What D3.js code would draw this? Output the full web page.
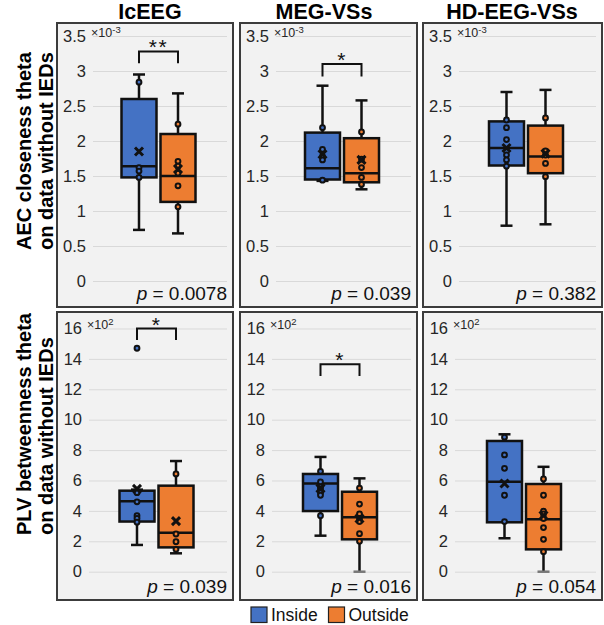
<!DOCTYPE html>
<html>
<head>
<meta charset="utf-8">
<script src="https://cdnjs.cloudflare.com/ajax/libs/d3/7.8.5/d3.min.js"></script>
<style>
  html, body { margin: 0; padding: 0; background: #ffffff; }
  svg { display: block; font-family: "Liberation Sans", Arial, "DejaVu Sans", sans-serif; }
</style>
</head>
<body>
<svg id="chart" width="604" height="625"></svg>
<script>
// ---------------- DATA ----------------
const columns = ["IcEEG", "MEG-VSs", "HD-EEG-VSs"];
const rowLabels = [["AEC closeness theta", "on data without IEDs"],
                   ["PLV betweenness theta", "on data without IEDs"]];
const series = ["Inside", "Outside"];
const seriesColors = ["#4472C4", "#ED7D31"];

const topTicks = [0, 0.5, 1, 1.5, 2, 2.5, 3, 3.5];
const topTickLabels = ["0", "0.5", "1", "1.5", "2", "2.5", "3", "3.5"];
const bottomTicks = [0, 2, 4, 6, 8, 10, 12, 14, 16];
const bottomTickLabels = ["0", "2", "4", "6", "8", "10", "12", "14", "16"];
const rowExponent = ["-3", "2"];

// panel order: top row (IcEEG, MEG, HD-EEG), bottom row (IcEEG, MEG, HD-EEG)
const insideLow    = [0.73, 1.43, 0.79, 1.76, 2.37, 2.20];
const insideQ1     = [1.48, 1.45, 1.65, 3.30, 3.99, 3.25];
const insideMedian = [1.64, 1.61, 1.90, 4.63, 5.81, 5.92];
const insideQ3     = [2.60, 2.12, 2.28, 5.33, 6.43, 8.60];
const insideHigh   = [2.95, 2.79, 2.70, 5.40, 7.55, 9.04];
const insideMean   = [1.85, 1.81, 1.90, 5.45, 5.48, 5.80];
const insidePoints = [
  [2.84, 1.62, 1.57, 1.48],
  [2.19, 1.88, 1.78, 1.73, 1.44],
  [2.30, 2.19, 2.02, 1.80, 1.73, 1.64],
  [5.20, 4.60, 3.68, 3.50, 3.26],
  [6.60, 5.90, 5.60, 5.45, 5.20, 5.03, 3.68],
  [8.85, 7.68, 6.80, 5.03, 3.30]
];
const insideOutliers = [[], [], [], [14.7], [], []];

const outsideLow    = [0.68, 1.31, 0.81, 1.21, 0.00, 0.00];
const outsideQ1     = [1.13, 1.41, 1.54, 1.60, 2.13, 1.47];
const outsideMedian = [1.50, 1.54, 1.78, 2.57, 3.58, 3.45];
const outsideQ3     = [2.10, 2.04, 2.22, 5.66, 5.26, 5.77];
const outsideHigh   = [2.68, 2.58, 2.73, 7.28, 6.14, 6.90];
const outsideMean   = [1.60, 1.73, 1.82, 3.33, 3.50, 3.70];
const outsidePoints = [
  [2.24, 1.71, 1.64, 1.54, 1.36, 1.06],
  [2.13, 1.74, 1.62, 1.48, 1.38],
  [2.33, 1.86, 1.80, 1.68, 1.49],
  [6.43, 2.48, 1.97, 1.47],
  [5.50, 4.45, 3.80, 3.50, 3.30, 2.50, 2.00],
  [6.10, 5.03, 3.99, 3.80, 3.50, 2.90, 2.13, 1.32]
];
const outsideOutliers = [[], [], [], [], [], []];

const sigLabels   = ["**", "*", "", "*", "*", ""];
const sigBarTop   = [3.28, 3.10, null, 16.0, 13.64, null];
const sigBarLegs  = [3.11, 2.92, null, 15.24, 12.87, null];
const pValues     = ["0.0078", "0.039", "0.382", "0.039", "0.016", "0.054"];

// ---------------- LAYOUT ----------------
const svg = d3.select("#chart");
const colX = [57, 240, 423];
const colW = [176, 177, 179];
const rowY = [23, 312];
const rowH = [284, 288];
const plotTop = [36, 328.5];
const plotBottom = [281, 571.7];
const plotLeftOffset = [36, 32];
const plotRightInset = 6;

// column titles
const titleX = [150, 324, 512];
svg.selectAll("text.coltitle").data(columns).join("text")
  .attr("class", "coltitle")
  .attr("x", (d, i) => titleX[i]).attr("y", 18.5)
  .attr("text-anchor", "middle")
  .attr("font-size", 21.5).attr("font-weight", "bold").attr("fill", "#000")
  .text(d => d);

// row labels
const rowLabelStart = [250, 535];
rowLabels.forEach((lines, r) => {
  lines.forEach((line, k) => {
    svg.append("text")
      .attr("transform", `translate(${k === 0 ? 30.5 : 53} ${rowLabelStart[r]}) rotate(-90)`)
      .attr("text-anchor", "start")
      .attr("font-size", 20).attr("font-weight", "bold").attr("fill", "#000")
      .text(line);
  });
});

const stats = [
  {low: insideLow, q1: insideQ1, med: insideMedian, q3: insideQ3, high: insideHigh, mean: insideMean, pts: insidePoints, out: insideOutliers},
  {low: outsideLow, q1: outsideQ1, med: outsideMedian, q3: outsideQ3, high: outsideHigh, mean: outsideMean, pts: outsidePoints, out: outsideOutliers}
];

for (let r = 0; r < 2; r++) {
  for (let c = 0; c < 3; c++) {
    const p = r * 3 + c;
    const g = svg.append("g");
    // panel background + border
    g.append("rect")
      .attr("x", colX[c]).attr("y", rowY[r])
      .attr("width", colW[c]).attr("height", rowH[r])
      .attr("fill", "#f2f2f2").attr("stroke", "#3c3c3c").attr("stroke-width", 2);

    const x0 = colX[c] + plotLeftOffset[r];
    const x1 = colX[c] + colW[c] - plotRightInset;
    const ticks = r === 0 ? topTicks : bottomTicks;
    const tickLabels = r === 0 ? topTickLabels : bottomTickLabels;
    const y = d3.scaleLinear()
      .domain([ticks[0], ticks[ticks.length - 1]])
      .range([plotBottom[r], plotTop[r]]);

    // gridlines + tick labels through axis
    const axis = d3.axisLeft(y).tickValues(ticks)
      .tickFormat((d, i) => tickLabels[i])
      .tickSize(-(x1 - x0)).tickPadding(7);
    const ag = g.append("g").attr("transform", `translate(${x0},0)`).call(axis);
    ag.select(".domain").remove();
    ag.selectAll(".tick line").attr("stroke", "#d9d9d9").attr("stroke-width", 1);
    ag.selectAll(".tick text").attr("font-size", 16.5).attr("fill", "#262626")
      .attr("font-family", "'Liberation Sans', Arial, sans-serif");

    // exponent label
    const ex = g.append("text")
      .attr("x", x0 - 2).attr("y", plotTop[r] + 0.5)
      .attr("font-size", 12.5).attr("fill", "#262626");
    ex.append("tspan").text("×10");
    ex.append("tspan").attr("dy", -4).attr("font-size", 9.5).text(rowExponent[r]);

    // x positioning
    const center = (x0 + x1) / 2 - 1.5;
    const xs = d3.scaleBand().domain(series)
      .range([center - 37, center + 37]).paddingInner(0.1026).paddingOuter(0);
    const bw = xs.bandwidth();

    series.forEach((s, si) => {
      const st = stats[si];
      const cx = xs(s) + bw / 2;
      const sg = g.append("g");
      // whiskers
      sg.append("line").attr("x1", cx).attr("x2", cx)
        .attr("y1", y(st.high[p])).attr("y2", y(st.q3[p]))
        .attr("stroke", "#111").attr("stroke-width", 2.5);
      sg.append("line").attr("x1", cx).attr("x2", cx)
        .attr("y1", y(st.q1[p])).attr("y2", y(st.low[p]))
        .attr("stroke", "#111").attr("stroke-width", 2.5);
      [st.high[p], st.low[p]].forEach(v => {
        sg.append("line").attr("x1", cx - 6).attr("x2", cx + 6)
          .attr("y1", y(v)).attr("y2", y(v))
          .attr("stroke", v === 0 ? "#777" : "#111").attr("stroke-width", 2.5);
      });
      // box
      sg.append("rect")
        .attr("x", xs(s)).attr("y", y(st.q3[p]))
        .attr("width", bw).attr("height", y(st.q1[p]) - y(st.q3[p]))
        .attr("fill", seriesColors[si]).attr("stroke", "#111").attr("stroke-width", 2.5);
      // median
      sg.append("line").attr("x1", xs(s)).attr("x2", xs(s) + bw)
        .attr("y1", y(st.med[p])).attr("y2", y(st.med[p]))
        .attr("stroke", "#111").attr("stroke-width", 2.5);
      // inner points
      sg.selectAll("circle.pt").data(st.pts[p].concat(st.out[p])).join("circle")
        .attr("class", "pt")
        .attr("cx", cx).attr("cy", d => y(d)).attr("r", 2.4)
        .attr("fill", seriesColors[si]).attr("stroke", "#111").attr("stroke-width", 2);
      // mean marker
      const my = y(st.mean[p]);
      sg.append("path")
        .attr("d", `M${cx - 4},${my - 4}L${cx + 4},${my + 4}M${cx - 4},${my + 4}L${cx + 4},${my - 4}`)
        .attr("stroke", "#111").attr("stroke-width", 3).attr("fill", "none");
    });

    // significance bracket
    if (sigLabels[p]) {
      const ca = xs(series[0]) + bw / 2, cb = xs(series[1]) + bw / 2;
      const yt = y(sigBarTop[p]), yl = y(sigBarLegs[p]);
      g.append("path")
        .attr("d", `M${ca},${yl}V${yt}H${cb}V${yl}`)
        .attr("fill", "none").attr("stroke", "#111").attr("stroke-width", 2);
      g.append("text")
        .attr("x", (ca + cb) / 2).attr("y", yt + 3)
        .attr("text-anchor", "middle").attr("font-size", 21).attr("fill", "#111")
        .attr("letter-spacing", 1.5)
        .text(sigLabels[p]);
    }

    // p-value
    const pt = g.append("text")
      .attr("x", x1).attr("y", rowY[r] + rowH[r] - 7)
      .attr("text-anchor", "end").attr("font-size", 19).attr("fill", "#111");
    pt.append("tspan").attr("font-style", "italic").text("p");
    pt.append("tspan").text(" = " + pValues[p]);
  }
}

// legend
const legX = [251, 328.5];
series.forEach((s, i) => {
  svg.append("rect")
    .attr("x", legX[i]).attr("y", 607).attr("width", 16).attr("height", 15.5)
    .attr("fill", seriesColors[i]).attr("stroke", "#222").attr("stroke-width", 1.2);
  svg.append("text")
    .attr("x", legX[i] + 20).attr("y", 620.5)
    .attr("font-size", 17.5).attr("fill", "#111")
    .text(s);
});
</script>
</body>
</html>
